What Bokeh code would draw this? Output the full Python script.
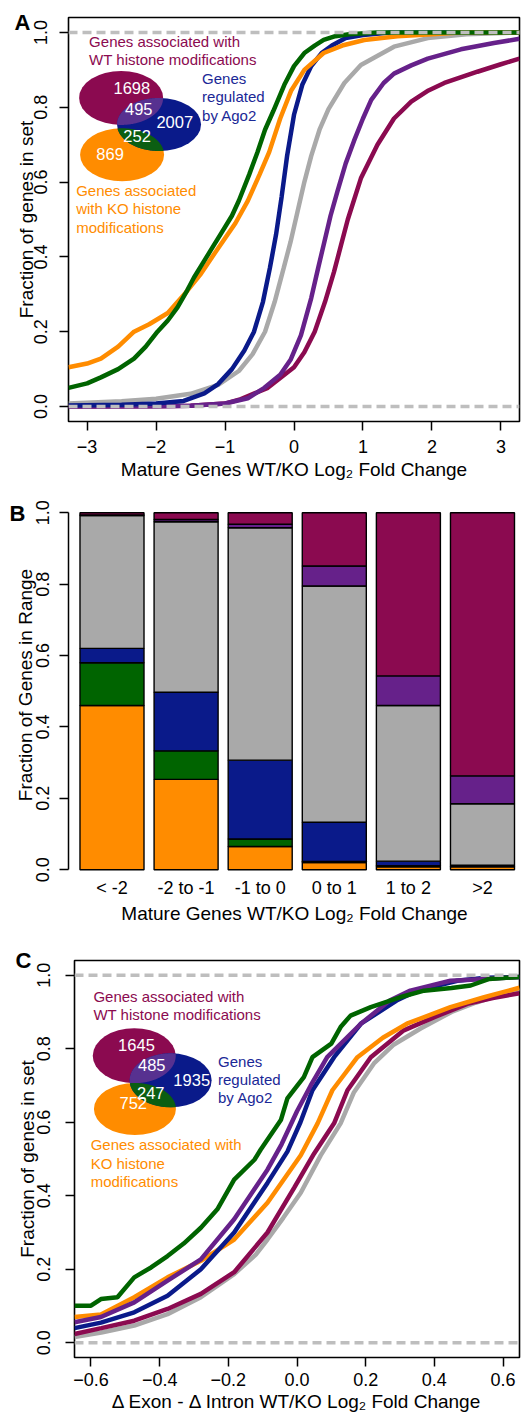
import numpy as np
from bokeh.plotting import figure
from bokeh.layouts import column
from bokeh.models import Range1d, Span, FixedTicker, ColumnDataSource, LinearAxis
from bokeh.core.properties import value
from bokeh.embed import file_html
from bokeh.resources import INLINE

FONT = "Liberation Sans"
MAROON = "#8B0A50"
PURPLE = "#66218A"
BLUE = "#0A1A8A"
GREEN = "#006400"
ORANGE = "#FF8C00"
GRAY = "#A9A9A9"
DASH = "#BEBEBE"
OVL_PURPLE = "#573190"
OVL_GREEN = "#0B5E12"

# ---------------- Panel A data: cumulative fraction vs mature log2 fold change
A_XTICKS = [-3, -2, -1, 0, 1, 2, 3]
A_XLABELS = ["\u22123", "\u22122", "\u22121", "0", "1", "2", "3"]
Y_TICKS = [0.0, 0.2, 0.4, 0.6, 0.8, 1.0]
Y_LABELS = ["0.0", "0.2", "0.4", "0.6", "0.8", "1.0"]

A_GRAY_X = [-3.27, -2.5, -2.0, -1.5, -1.1, -0.8, -0.6, -0.42, -0.28, -0.15, -0.05, 0.05, 0.15, 0.25, 0.37, 0.5, 0.73, 0.97, 1.45, 1.94, 2.5, 3.27]
A_GRAY_Y = [0.008, 0.014, 0.021, 0.034, 0.058, 0.095, 0.14, 0.2, 0.28, 0.37, 0.44, 0.52, 0.6, 0.67, 0.74, 0.795, 0.865, 0.913, 0.962, 0.985, 0.995, 1.0]
A_MAROON_X = [-3.27, -2.0, -1.5, -1.0, -0.77, -0.38, 0.0, 0.15, 0.3, 0.45, 0.58, 0.68, 0.78, 0.97, 1.21, 1.45, 1.7, 1.95, 2.18, 2.66, 3.0, 3.27]
A_MAROON_Y = [0.0, 0.001, 0.002, 0.008, 0.02, 0.05, 0.105, 0.145, 0.2, 0.28, 0.36, 0.43, 0.5, 0.61, 0.7, 0.77, 0.815, 0.845, 0.865, 0.895, 0.915, 0.93]
A_PURPLE_X = [-3.27, -2.0, -1.5, -1.0, -0.67, -0.43, -0.2, -0.05, 0.1, 0.25, 0.35, 0.44, 0.53, 0.63, 0.75, 0.87, 1.0, 1.12, 1.3, 1.45, 1.7, 1.94, 2.42, 2.9, 3.27]
A_PURPLE_Y = [0.0, 0.001, 0.002, 0.008, 0.022, 0.05, 0.085, 0.125, 0.19, 0.29, 0.37, 0.44, 0.51, 0.575, 0.65, 0.71, 0.77, 0.82, 0.865, 0.89, 0.912, 0.93, 0.955, 0.972, 0.983]
A_BLUE_X = [-3.27, -2.5, -2.0, -1.6, -1.3, -1.1, -0.9, -0.72, -0.58, -0.45, -0.35, -0.26, -0.18, -0.1, 0.0, 0.12, 0.25, 0.4, 0.55, 0.75, 1.0, 1.4, 3.27]
A_BLUE_Y = [0.003, 0.005, 0.008, 0.015, 0.035, 0.06, 0.1, 0.15, 0.2, 0.28, 0.37, 0.46, 0.56, 0.67, 0.78, 0.86, 0.91, 0.945, 0.965, 0.985, 0.993, 1.0, 1.0]
A_ORANGE_X = [-3.27, -3.0, -2.8, -2.55, -2.32, -2.1, -1.83, -1.59, -1.35, -1.15, -1.0, -0.85, -0.67, -0.5, -0.36, -0.2, -0.04, 0.15, 0.43, 0.7, 1.02, 1.5, 2.0, 2.4, 3.27]
A_ORANGE_Y = [0.105, 0.115, 0.128, 0.16, 0.2, 0.22, 0.25, 0.3, 0.355, 0.41, 0.45, 0.49, 0.55, 0.62, 0.68, 0.77, 0.845, 0.9, 0.945, 0.965, 0.98, 0.99, 0.995, 1.0, 1.0]
A_GREEN_X = [-3.27, -3.0, -2.8, -2.55, -2.32, -2.15, -1.98, -1.83, -1.69, -1.55, -1.45, -1.3, -1.2, -1.05, -0.9, -0.8, -0.65, -0.53, -0.42, -0.3, -0.14, 0.0, 0.15, 0.3, 0.43, 0.6, 0.8, 1.2, 3.27]
A_GREEN_Y = [0.05, 0.062, 0.078, 0.1, 0.128, 0.16, 0.2, 0.23, 0.265, 0.31, 0.345, 0.39, 0.42, 0.465, 0.51, 0.55, 0.62, 0.68, 0.74, 0.79, 0.86, 0.91, 0.945, 0.965, 0.98, 0.99, 0.995, 1.0, 1.0]
A_VENN_COUNTS = ["1698", "495", "2007", "252", "869"]

# ---------------- Panel B data: stacked fractions per fold-change range
B_CATEGORIES = ["< -2", "-2 to -1", "-1 to 0", "0 to 1", "1 to 2", ">2"]
B_ORANGE = [0.46, 0.253, 0.065, 0.02, 0.008, 0.008]
B_GREEN = [0.12, 0.08, 0.021, 0.003, 0.003, 0.002]
B_BLUE = [0.04, 0.164, 0.221, 0.11, 0.013, 0.003]
B_GRAY = [0.372, 0.478, 0.651, 0.662, 0.436, 0.172]
B_PURPLE = [0.002, 0.006, 0.01, 0.056, 0.083, 0.078]
B_MAROON = [0.006, 0.019, 0.032, 0.149, 0.457, 0.737]

# ---------------- Panel C data: cumulative fraction vs exon-intron change
C_XTICKS = [-0.6, -0.4, -0.2, 0.0, 0.2, 0.4, 0.6]
C_XLABELS = ["\u22120.6", "\u22120.4", "\u22120.2", "0.0", "0.2", "0.4", "0.6"]
C_GRAY_X = [-0.648, -0.57, -0.474, -0.377, -0.28, -0.183, -0.12, -0.086, -0.04, 0.011, 0.069, 0.127, 0.165, 0.224, 0.28, 0.36, 0.45, 0.52, 0.6, 0.648]
C_GRAY_Y = [0.016, 0.028, 0.047, 0.078, 0.124, 0.187, 0.24, 0.281, 0.34, 0.408, 0.51, 0.597, 0.68, 0.76, 0.81, 0.855, 0.9, 0.925, 0.95, 0.962]
C_MAROON_X = [-0.648, -0.57, -0.474, -0.377, -0.28, -0.183, -0.086, -0.008, 0.05, 0.108, 0.147, 0.215, 0.311, 0.4, 0.496, 0.57, 0.648]
C_MAROON_Y = [0.024, 0.04, 0.06, 0.092, 0.133, 0.192, 0.3, 0.422, 0.515, 0.597, 0.687, 0.777, 0.85, 0.886, 0.922, 0.938, 0.951]
C_ORANGE_X = [-0.648, -0.571, -0.474, -0.377, -0.28, -0.183, -0.086, 0.011, 0.06, 0.103, 0.176, 0.25, 0.32, 0.447, 0.545, 0.648]
C_ORANGE_Y = [0.07, 0.077, 0.124, 0.178, 0.223, 0.281, 0.381, 0.51, 0.597, 0.687, 0.777, 0.83, 0.868, 0.913, 0.94, 0.966]
C_BLUE_X = [-0.648, -0.571, -0.474, -0.377, -0.28, -0.183, -0.086, -0.028, 0.01, 0.045, 0.108, 0.186, 0.29, 0.35, 0.467, 0.55, 0.648]
C_BLUE_Y = [0.04, 0.055, 0.083, 0.128, 0.2, 0.3, 0.435, 0.52, 0.6, 0.687, 0.777, 0.868, 0.931, 0.958, 0.985, 0.993, 0.995]
C_PURPLE_X = [-0.648, -0.571, -0.474, -0.377, -0.28, -0.183, -0.086, -0.045, 0.0, 0.04, 0.088, 0.186, 0.27, 0.33, 0.447, 0.55, 0.648]
C_PURPLE_Y = [0.056, 0.07, 0.11, 0.169, 0.227, 0.336, 0.471, 0.54, 0.63, 0.7, 0.777, 0.868, 0.931, 0.958, 0.985, 0.99, 0.995]
C_GREEN_X = [-0.648, -0.6, -0.571, -0.523, -0.474, -0.425, -0.377, -0.33, -0.28, -0.232, -0.183, -0.124, -0.106, -0.047, -0.028, 0.02, 0.045, 0.1, 0.127, 0.156, 0.215, 0.3, 0.37, 0.45, 0.506, 0.56, 0.648]
C_GREEN_Y = [0.101, 0.101, 0.119, 0.124, 0.178, 0.205, 0.236, 0.27, 0.313, 0.363, 0.444, 0.498, 0.525, 0.606, 0.665, 0.723, 0.777, 0.814, 0.859, 0.89, 0.913, 0.94, 0.958, 0.965, 0.972, 0.99, 0.995]
C_VENN_COUNTS = ["1645", "485", "1935", "247", "752"]

WT_LABEL = ["Genes associated with", "WT histone modifications"]
AGO_LABEL = ["Genes", "regulated", "by Ago2"]
A_KO_LABEL = ["Genes associated", "with KO histone", "modifications"]
C_KO_LABEL = ["Genes associated with", "KO histone", "modifications"]


def base_fig(fw, fh, xr, yr, ml, mr, mt, mb, box=True):
    p = figure(frame_width=fw, frame_height=fh, x_range=Range1d(*xr), y_range=Range1d(*yr),
               output_backend="svg", toolbar_location=None, frame_align=False,
               min_border_left=ml, min_border_right=mr, min_border_top=mt, min_border_bottom=mb)
    p.grid.visible = False
    p.background_fill_color = "white"
    p.border_fill_color = "white"
    if box:
        p.outline_line_color = "black"
        p.outline_line_width = 1.6
        p.outline_line_alpha = 1.0
    else:
        p.outline_line_color = None
    for ax in p.axis:
        ax.major_label_text_font = FONT
        ax.major_label_text_font_size = "18px"
        ax.major_label_text_color = "black"
        ax.axis_label_text_font = FONT
        ax.axis_label_text_font_size = "19px"
        ax.axis_label_text_font_style = "normal"
        ax.axis_label_text_color = "black"
        ax.minor_tick_line_color = None
        ax.major_tick_line_color = "black"
        ax.major_tick_line_width = 1.5
        ax.major_tick_out = 9
        ax.major_tick_in = 0
        ax.axis_line_color = None
    return p


def set_y(p, title, s1, s2):
    p.yaxis.ticker = FixedTicker(ticks=Y_TICKS)
    p.yaxis.major_label_overrides = {t: l for t, l in zip(Y_TICKS, Y_LABELS)}
    p.yaxis.major_label_orientation = "vertical"
    p.yaxis.major_label_standoff = s1
    p.yaxis.axis_label = title
    p.yaxis.axis_label_standoff = s2


def set_x(p, ticks, labels, title, s1, s2):
    p.xaxis.ticker = FixedTicker(ticks=ticks)
    p.xaxis.major_label_overrides = {t: l for t, l in zip(ticks, labels)}
    p.xaxis.major_label_standoff = s1
    p.xaxis.axis_label = title
    p.xaxis.axis_label_standoff = s2


def dashes(p):
    for loc in (0.0, 1.0):
        p.add_layout(Span(location=loc, dimension="width", line_color=DASH,
                          line_width=3.5, line_dash="9 5"))


def overlap(c1, r1, c2, r2, sx, sy):
    t = np.linspace(0, 2 * np.pi, 721)
    a = np.array([c1[0] * sx, c1[1] * sy]); b = np.array([c2[0] * sx, c2[1] * sy])
    e1 = np.stack([a[0] + r1[0] * np.cos(t), a[1] + r1[1] * np.sin(t)], 1)
    e2 = np.stack([b[0] + r2[0] * np.cos(t), b[1] + r2[1] * np.sin(t)], 1)
    in2 = ((e1[:, 0] - b[0]) / r2[0]) ** 2 + ((e1[:, 1] - b[1]) / r2[1]) ** 2 <= 1
    in1 = ((e2[:, 0] - a[0]) / r1[0]) ** 2 + ((e2[:, 1] - a[1]) / r1[1]) ** 2 <= 1
    pts = np.vstack([e1[in2], e2[in1]])
    c = pts.mean(0)
    order = np.argsort(np.arctan2(pts[:, 1] - c[1], pts[:, 0] - c[0]))
    pts = pts[order]
    return list(pts[:, 0] / sx), list(pts[:, 1] / sy)


def venn(p, lay, counts, sx, sy):
    (cm, cb, co) = lay["centers"]
    rm, rb, ro = lay["radii"]
    for c, r, col in ((cm, rm, MAROON), (co, ro, ORANGE), (cb, rb, BLUE)):
        p.ellipse(x=[c[0]], y=[c[1]], width=[2 * r[0]], height=[2 * r[1]],
                  width_units="screen", height_units="screen",
                  fill_color=col, line_color=None)
    xs, ys = overlap(cm, rm, cb, rb, sx, sy)
    p.patch(xs, ys, fill_color=OVL_PURPLE, line_color=None)
    xs, ys = overlap(co, ro, cb, rb, sx, sy)
    p.patch(xs, ys, fill_color=OVL_GREEN, line_color=None)
    nx, ny = zip(*lay["numbers"])
    p.text(x=list(nx), y=list(ny), text=counts, text_font=value(FONT), text_font_size="16.5px",
           text_color="white", text_align="center", text_baseline="middle")


def labels(p, xs, ys, lines, color):
    p.text(x=[xs] * len(lines), y=ys, text=lines, text_font=value(FONT), text_font_size="15px",
           text_color=color, text_align="left", text_baseline="middle")


def panel_letter(p, ypos, letter, pull):
    ax = LinearAxis(ticker=FixedTicker(ticks=[ypos]), major_label_overrides={ypos: letter})
    ax.axis_line_color = None
    ax.major_tick_line_color = None
    ax.minor_tick_line_color = None
    ax.major_tick_out = 0
    ax.major_tick_in = 0
    ax.major_label_standoff = -pull
    ax.major_label_orientation = "horizontal"
    ax.major_label_text_font = FONT
    ax.major_label_text_font_size = "22px"
    ax.major_label_text_font_style = "bold"
    ax.major_label_text_color = "black"
    p.add_layout(ax, "left")


# ================= Panel A
pA = base_fig(451, 404, (-3.27, 3.27), (-0.04, 1.04), 68, 2, 17, 60)
set_y(pA, "Fraction of genes in set", 12, -5)
set_x(pA, A_XTICKS, A_XLABELS, "Mature Genes WT/KO Log\u2082 Fold Change", 9, 3)
for xs, ys, col in ((A_GRAY_X, A_GRAY_Y, GRAY), (A_MAROON_X, A_MAROON_Y, MAROON),
                    (A_PURPLE_X, A_PURPLE_Y, PURPLE), (A_BLUE_X, A_BLUE_Y, BLUE),
                    (A_ORANGE_X, A_ORANGE_Y, ORANGE), (A_GREEN_X, A_GREEN_Y, GREEN)):
    pA.line(xs, ys, line_color=col, line_width=4.5)
A_LAYOUT = {"centers": [(-2.507, 0.825), (-1.957, 0.754), (-2.493, 0.673)],
            "radii": [(42, 27), (42, 26.5), (42, 26.5)],
            "numbers": [(-2.352, 0.851), (-2.251, 0.795), (-1.729, 0.76), (-2.275, 0.723), (-2.667, 0.675)]}
venn(pA, A_LAYOUT, A_VENN_COUNTS, 451 / 6.54, 404 / 1.08)
labels(pA, -2.971, [0.976, 0.927], WT_LABEL, MAROON)
labels(pA, -1.333, [0.876, 0.828, 0.779], AGO_LABEL, "#1A2896")
labels(pA, -3.159, [0.578, 0.53, 0.479], A_KO_LABEL, ORANGE)
dashes(pA)
panel_letter(pA, 1.0274, "A", 18)

# ================= Panel B
pB = base_fig(452, 373, (-0.587, 5.513), (-0.005, 1.04), 68, 1, 16, 40, box=False)
set_y(pB, "Fraction of Genes in Range", 10, -2)
pB.yaxis.axis_line_color = "black"
pB.yaxis.axis_line_width = 1.5
pB.yaxis.bounds = (0, 1)
set_x(pB, list(range(len(B_CATEGORIES))), B_CATEGORIES, "Mature Genes WT/KO Log\u2082 Fold Change", 6, 2)
pB.xaxis.major_tick_line_color = None
pB.xaxis.major_tick_out = 0
src = ColumnDataSource(dict(x=list(range(len(B_CATEGORIES))), o=B_ORANGE, g=B_GREEN, b=B_BLUE,
                            gr=B_GRAY, pu=B_PURPLE, m=B_MAROON))
pB.vbar_stack(["o", "g", "b", "gr", "pu", "m"], x="x", width=0.864, source=src,
              fill_color=[ORANGE, GREEN, BLUE, GRAY, PURPLE, MAROON],
              line_color="black", line_width=1.4)
panel_letter(pB, 0.998, "B", 14)

# ================= Panel C
pC = base_fig(445, 397, (-0.648, 0.648), (-0.04, 1.04), 74, 2, 34, 50)
set_y(pC, "Fraction of genes in set", 15, -3)
set_x(pC, C_XTICKS, C_XLABELS, "\u0394 Exon - \u0394 Intron WT/KO Log\u2082 Fold Change", 6, 2)
for xs, ys, col in ((C_GRAY_X, C_GRAY_Y, GRAY), (C_MAROON_X, C_MAROON_Y, MAROON),
                    (C_ORANGE_X, C_ORANGE_Y, ORANGE), (C_BLUE_X, C_BLUE_Y, BLUE),
                    (C_PURPLE_X, C_PURPLE_Y, PURPLE), (C_GREEN_X, C_GREEN_Y, GREEN)):
    pC.line(xs, ys, line_color=col, line_width=4.5)
C_LAYOUT = {"centers": [(-0.474, 0.781), (-0.368, 0.714), (-0.472, 0.636)],
            "radii": [(41.5, 27.5), (41, 27), (41, 26)],
            "numbers": [(-0.4675, 0.809), (-0.423, 0.755), (-0.3066, 0.7145), (-0.426, 0.68), (-0.477, 0.651)]}
venn(pC, C_LAYOUT, C_VENN_COUNTS, 445 / 1.296, 397 / 1.08)
labels(pC, -0.593, [0.942, 0.893], WT_LABEL, MAROON)
labels(pC, -0.23, [0.764, 0.716, 0.668], AGO_LABEL, "#1A2896")
labels(pC, -0.601, [0.539, 0.488, 0.438], C_KO_LABEL, ORANGE)
dashes(pC)
panel_letter(pC, 1.039, "C", 18)

layout = column(pA, pB, pC, spacing=0)
open("out.html", "w").write(file_html(layout, INLINE))
